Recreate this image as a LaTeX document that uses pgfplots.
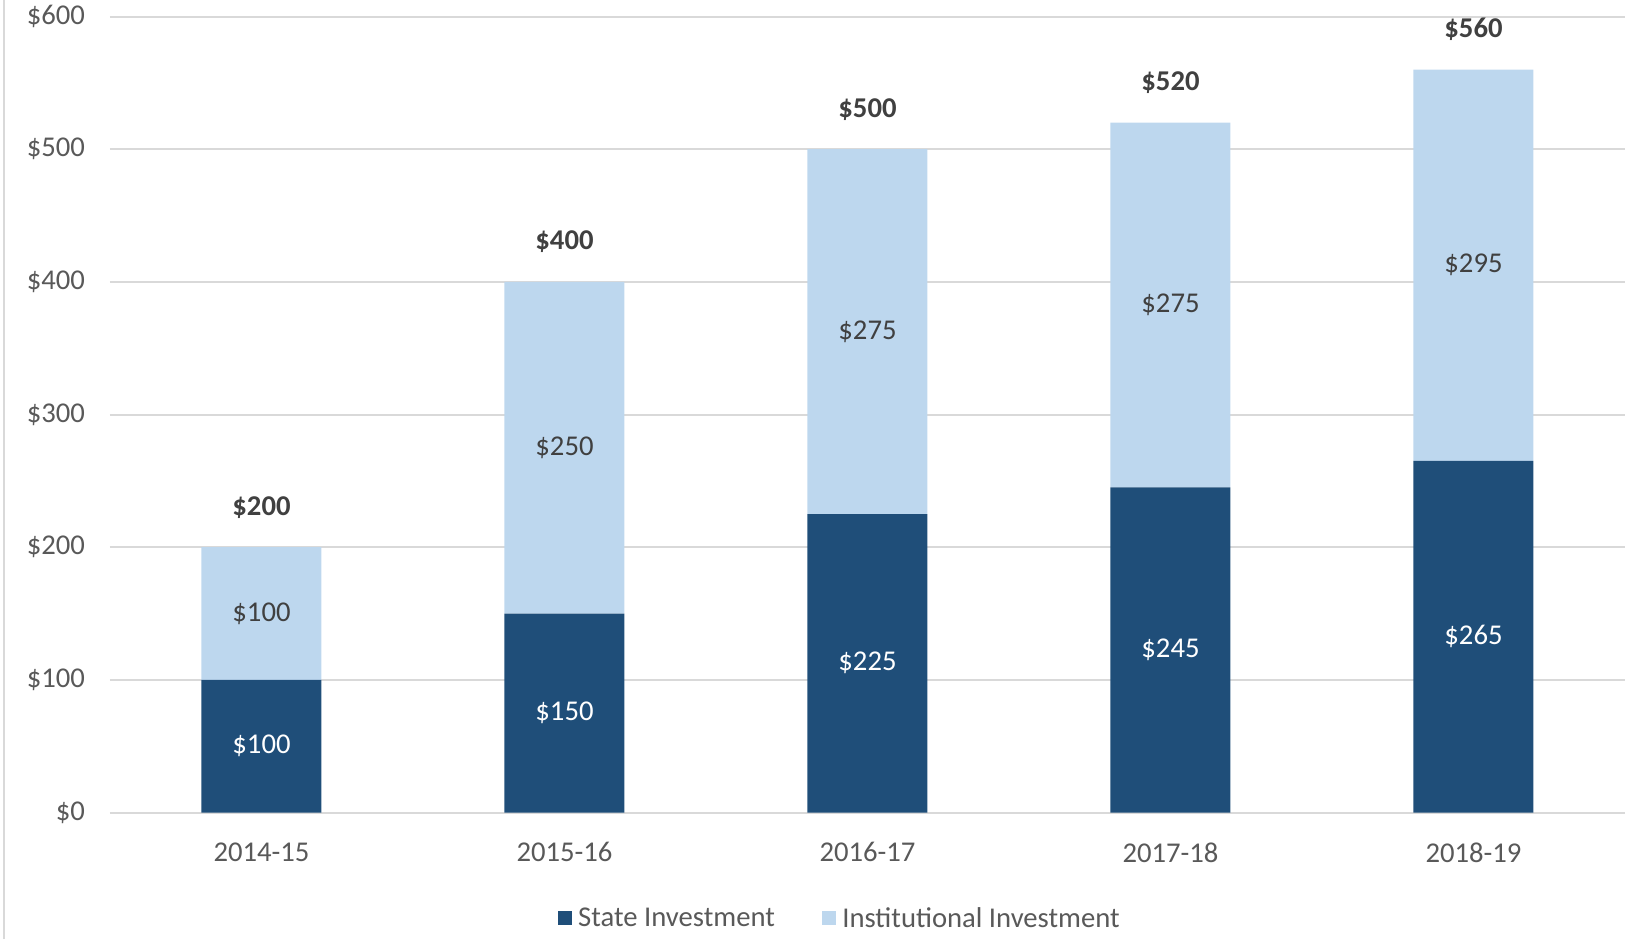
\documentclass[border=0pt]{standalone}
\usepackage{pgfplots}
\pgfplotsset{compat=1.18}
\usepackage{pgfplotstable}
\usepackage{fontspec}
\setmainfont{Carlito}
\definecolor{darkblue}{HTML}{1F4E79}
\definecolor{lightblue}{HTML}{BDD7EE}
\definecolor{gridgray}{HTML}{D9D9D9}
\definecolor{ticktext}{HTML}{595959}
\definecolor{labeltext}{HTML}{404040}
\pgfplotstableread{
x state inst total
0 100 100 200
1 150 250 400
2 225 275 500
3 245 275 520
4 265 295 560
}\data
\pgfplotsset{common/.style={
  at={(0pt,0pt)}, anchor=south west,
  scale only axis,
  width=454.5pt, height=238.8pt,
  xmin=-0.5, xmax=4.5,
  ymin=0, ymax=600,
  clip=false}}
\begin{document}
\begin{tikzpicture}
\useasboundingbox (-33pt,-37.95pt) rectangle (455.1pt,243.75pt);
\draw[gridgray, line width=0.6pt] (-31.8pt,-37.95pt) -- (-31.8pt,243.75pt);
\begin{axis}[
  common,
  ybar stacked,
  bar width=36pt,
  ytick={0,100,200,300,400,500,600},
  xtick=data,
  xticklabels={2014-15,2015-16,2016-17,2017-18,2018-19},
  yticklabel={\$\pgfmathprintnumber{\tick}},
  /pgf/number format/assume math mode=true,
  axis line style={draw=none},
  ymajorgrids,
  grid style={gridgray, line width=0.6pt},
  major tick length=0pt,
  tick label style={font=\fontsize{8.6}{10}\selectfont, text=ticktext},
  yticklabel style={anchor=east, xshift=-4pt},
  xticklabel style={anchor=north, yshift=-5.5pt},
  legend style={at={(0.4832,-0.135)}, anchor=center, draw=none, fill=none,
    legend columns=2, font=\fontsize{8.6}{10}\selectfont, text=ticktext,
    /tikz/every even column/.append style={column sep=12pt},
    inner sep=0pt},
  legend image code/.code={\path[#1,draw=none] (0pt,-1.6pt) rectangle (4.2pt,2.6pt);},
  legend cell align=left,
]
\addplot[fill=darkblue, draw=none,
  point meta=explicit symbolic,
  nodes near coords={\$\pgfplotspointmeta},
  nodes near coords align=center,
  every node near coord/.style={anchor=center, text=white, font=\fontsize{8.6}{10}\selectfont}]
  table[x=x, y=state, meta=state]{\data};
\addplot[fill=lightblue, draw=none,
  point meta=explicit symbolic,
  nodes near coords={\$\pgfplotspointmeta},
  nodes near coords align=center,
  every node near coord/.style={anchor=center, text=labeltext, font=\fontsize{8.6}{10}\selectfont}]
  table[x=x, y=inst, meta=inst]{\data};
\legend{State Investment, Institutional Investment}
\end{axis}
\begin{axis}[common, hide axis]
\addplot[draw=none, mark=none,
  point meta=explicit symbolic,
  nodes near coords={\textbf{\$\pgfplotspointmeta}},
  every node near coord/.style={anchor=center, yshift=12pt, text=labeltext, font=\fontsize{8.6}{10}\selectfont}]
  table[x=x, y=total, meta=total]{\data};
\end{axis}
\end{tikzpicture}
\end{document}
